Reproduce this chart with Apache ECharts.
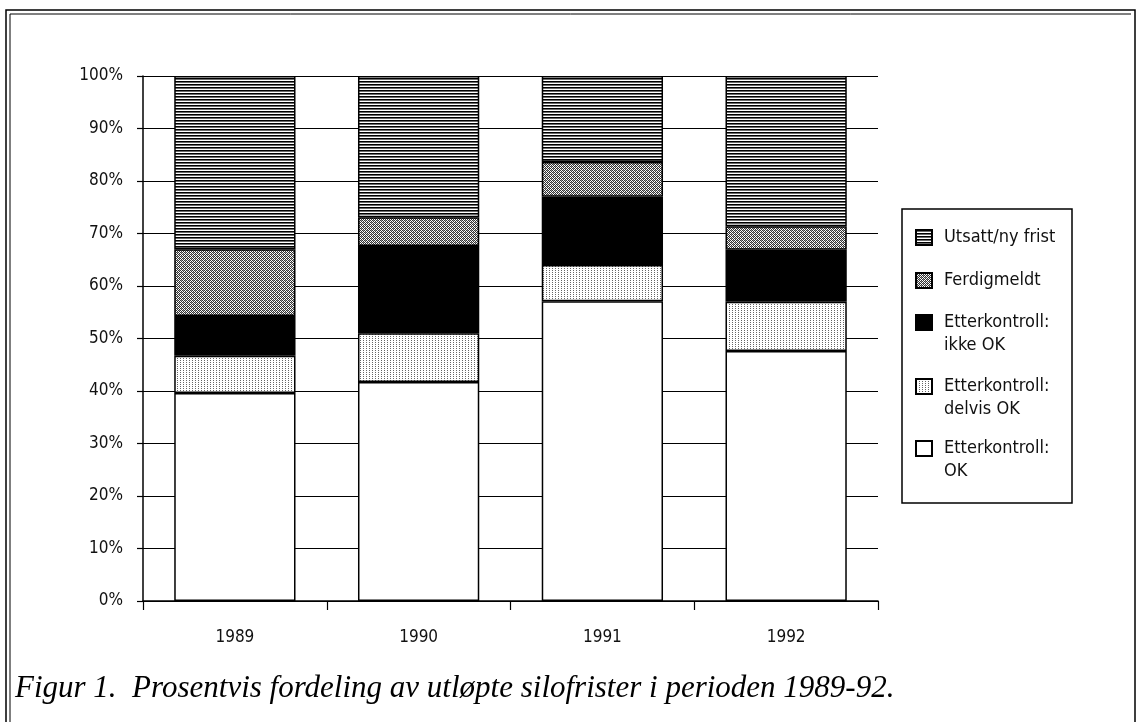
<!DOCTYPE html>
<html>
<head>
<meta charset="utf-8">
<script src="https://cdn.jsdelivr.net/npm/echarts@6/dist/echarts.min.js"></script>
<style>
  html, body { margin: 0; padding: 0; background: #fff; }
  #chart-container { width: 1137px; height: 722px; }
</style>
</head>
<body>
<div id="chart-container"></div>
<script>
var years = ['1989', '1990', '1991', '1992'];
var okVals = [39.6, 41.7, 57.1, 47.6];
var delvisVals = [7.1, 9.3, 6.9, 9.4];
var ikkeVals = [7.6, 16.6, 13.0, 9.9];
var ferdigVals = [12.7, 5.5, 6.6, 4.5];
var utsattVals = [33.0, 26.9, 16.4, 28.6];
var names = ['Utsatt/ny frist', 'Ferdigmeldt', 'Etterkontroll:\nikke OK', 'Etterkontroll:\ndelvis OK', 'Etterkontroll:\nOK'];
var caption = 'Figur 1.  Prosentvis fordeling av utløpte silofrister i perioden 1989-92.';

var labelFont = "'DejaVu Sans Condensed', 'Liberation Sans Narrow', Lato, sans-serif";

function pattern(w, h, draw) {
  var c = document.createElement('canvas');
  c.width = w; c.height = h;
  var ctx = c.getContext('2d');
  ctx.fillStyle = '#fff';
  ctx.fillRect(0, 0, w, h);
  draw(ctx);
  return { image: c, repeat: 'repeat' };
}

// horizontal stripes
var stripes = pattern(4, 3, function (ctx) {
  ctx.fillStyle = '#000'; ctx.fillRect(0, 0, 4, 1);
  ctx.fillStyle = '#6a6a6a'; ctx.fillRect(0, 1, 4, 1);
});
// dark grain
var grain = pattern(4, 4, function (ctx) {
  ctx.fillStyle = '#333';
  [[0,0],[2,0],[1,1],[3,1],[0,2],[2,2],[1,3],[3,3]].forEach(function (p) {
    ctx.fillRect(p[0], p[1], 1, 1);
  });
  ctx.fillStyle = '#999';
  [[1,0],[3,2]].forEach(function (p) {
    ctx.fillRect(p[0], p[1], 1, 1);
  });
});
// light dotted
var dots = pattern(3, 2, function (ctx) {
  ctx.fillStyle = '#666';
  ctx.fillRect(0, 0, 1, 1);
});

var dom = document.getElementById('chart-container');
var myChart = echarts.init(dom, null, { renderer: 'canvas' });

function serie(name, data, color) {
  return {
    name: name,
    type: 'bar',
    stack: 'all',
    barWidth: '66%',
    data: data,
    itemStyle: { color: color, borderColor: '#000', borderWidth: 1.5 },
    emphasis: { disabled: true }
  };
}

var legendText = { fontFamily: labelFont, fontSize: 18, color: '#111', lineHeight: 23, padding: [0, 0, 0, 7] };
var legendTops = [226, 269, 288, 352, 414];

var option = {
  animation: false,
  backgroundColor: '#fff',
  grid: { left: 143, right: 259, top: 76, bottom: 121 },
  xAxis: {
    type: 'category',
    data: years,
    axisLine: { lineStyle: { color: '#000', width: 1.5 } },
    axisTick: { show: true, length: 9, lineStyle: { color: '#000', width: 1.2 } },
    axisLabel: { margin: 28, fontFamily: labelFont, fontSize: 17, color: '#111' }
  },
  yAxis: {
    type: 'value',
    min: 0, max: 100, interval: 10,
    axisLine: { show: true, lineStyle: { color: '#000', width: 1.5 } },
    axisTick: { show: true, length: 6, lineStyle: { color: '#000', width: 1.2 } },
    splitLine: { lineStyle: { color: '#000', width: 1.2 } },
    axisLabel: { formatter: '{value}%', margin: 20, fontFamily: labelFont, fontSize: 17, color: '#111' }
  },
  legend: names.map(function (n, i) {
    return {
      data: [n],
      orient: 'vertical',
      left: 915,
      top: legendTops[i],
      padding: 0,
      itemWidth: 16,
      itemHeight: 15,
      icon: 'rect',
      selectedMode: false,
      // two-line names: blank first line so the first text line sits level with the icon
      formatter: function (name) { return name.indexOf('\n') >= 0 ? ' \n' + name : name; },
      textStyle: legendText
    };
  }),
  graphic: [
    { type: 'rect', shape: { x: 902, y: 209, width: 170, height: 294 }, style: { fill: 'none', stroke: '#000', lineWidth: 1.5 }, silent: true },
    { type: 'polyline', shape: { points: [[6, 722], [6, 10], [1135, 10], [1135, 722]] }, style: { fill: 'none', stroke: '#000', lineWidth: 1.5 }, silent: true },
    { type: 'polyline', shape: { points: [[10, 722], [10, 14], [1131, 14]] }, style: { fill: 'none', stroke: '#000', lineWidth: 1 }, silent: true },
    { type: 'text', left: 15, top: 673, style: { text: caption, font: "italic 31px 'Liberation Serif', 'DejaVu Serif', serif", fill: '#000' }, silent: true }
  ],
  series: [
    serie(names[4], okVals, '#fff'),
    serie(names[3], delvisVals, dots),
    serie(names[2], ikkeVals, '#000'),
    serie(names[1], ferdigVals, grain),
    serie(names[0], utsattVals, stripes)
  ]
};

myChart.setOption(option);
window.addEventListener('resize', myChart.resize);
</script>
</body>
</html>
